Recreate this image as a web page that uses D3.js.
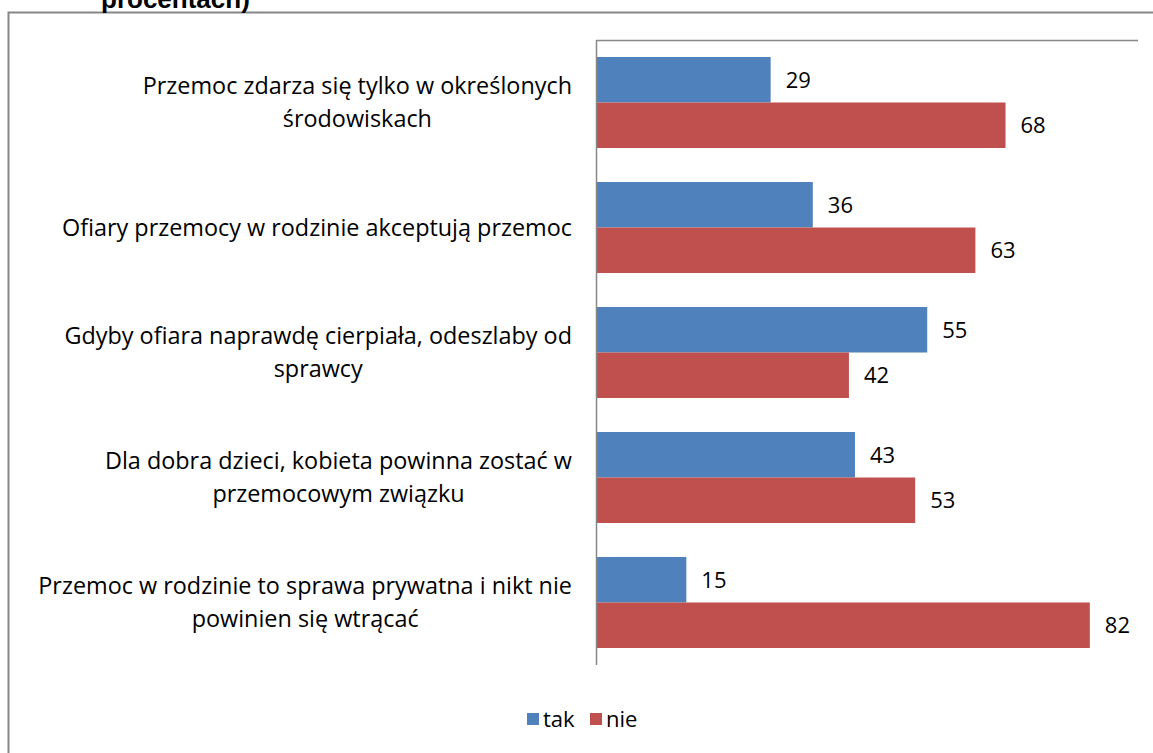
<!DOCTYPE html>
<html>
<head>
<meta charset="utf-8">
<script src="https://cdn.jsdelivr.net/npm/d3@7"></script>
<style>
  body { margin: 0; background: #fff; }
  text { font-family: "Open Sans", "Liberation Sans", Arial, sans-serif; fill: #000; }
</style>
</head>
<body>
<div id="chart"></div>
<script>
var svgWidth = 1153;
var svgHeight = 753;

// chart data
var categories = [
    ["Przemoc zdarza się tylko w określonych", "środowiskach"],
    ["Ofiary przemocy w rodzinie akceptują przemoc"],
    ["Gdyby ofiara naprawdę cierpiała, odeszlaby od", "sprawcy"],
    ["Dla dobra dzieci, kobieta powinna zostać w", "przemocowym związku"],
    ["Przemoc w rodzinie to sprawa prywatna i nikt nie", "powinien się wtrącać"]
];
var seriesNames = ["tak", "nie"];
var takValues = [29, 36, 55, 43, 15];
var nieValues = [68, 63, 42, 53, 82];
var colors = ["#4F81BD", "#C0504D"];

var plot = { left: 596, right: 1138, top: 40, bottom: 665 };
var fontSize = 22;
var labelSize = 23.4;

var svg = d3.select("#chart")
    .append("svg")
    .attr("width", svgWidth)
    .attr("height", svgHeight);

// outer frame (cut by the page edge)
svg.append("path")
    .attr("d", "M8.5," + svgHeight + " V12.5 H" + svgWidth)
    .attr("fill", "none")
    .attr("stroke", "#878787")
    .attr("stroke-width", 2);

// title, mostly cut off at the top
svg.append("text")
    .attr("x", 101)
    .attr("y", 8)
    .attr("font-size", 26)
    .attr("font-weight", "bold")
    .style("font-family", "'Liberation Sans', Arial, sans-serif")
    .text("procentach)");

var xScale = d3.scaleLinear()
    .domain([0, 90])
    .range([plot.left, plot.right]);

var yScale = d3.scaleBand()
    .domain(d3.range(categories.length))
    .range([plot.top, plot.bottom])
    .paddingInner(34 / 125)
    .paddingOuter(17 / 125);

var subScale = d3.scaleBand()
    .domain(seriesNames)
    .range([0, yScale.bandwidth()]);

var rows = categories.map(function(c, i) {
    return { label: c, values: [takValues[i], nieValues[i]] };
});

// plot area top line
svg.append("line")
    .attr("x1", plot.left).attr("x2", plot.right)
    .attr("y1", plot.top + 0.5).attr("y2", plot.top + 0.5)
    .attr("stroke", "#878787")
    .attr("stroke-width", 1.5);

var groups = svg.selectAll("g.group")
    .data(rows)
    .enter()
    .append("g")
    .attr("class", "group")
    .attr("transform", (d, i) => `translate(0, ${yScale(i)})`);

groups.selectAll("rect")
    .data(d => d.values.map((v, j) => ({ name: seriesNames[j], value: v, j: j })))
    .enter()
    .append("rect")
    .attr("x", xScale(0))
    .attr("y", d => subScale(d.name))
    .attr("width", d => xScale(d.value) - xScale(0))
    .attr("height", subScale.bandwidth())
    .attr("fill", d => colors[d.j]);

groups.selectAll("text.value")
    .data(d => d.values.map((v, j) => ({ name: seriesNames[j], value: v })))
    .enter()
    .append("text")
    .attr("class", "value")
    .attr("x", d => xScale(d.value) + 15)
    .attr("y", d => subScale(d.name) + subScale.bandwidth() / 2)
    .attr("dy", "0.36em")
    .attr("font-size", fontSize)
    .text(d => d.value);

// category labels, wrapped lines centred on the widest line
var lineGap = 33;
groups.each(function(d, i) {
    var g = d3.select(this);
    var label = g.append("g").attr("class", "label");
    var mid = yScale.bandwidth() / 2;
    var startY = mid - (d.label.length - 1) * lineGap / 2;
    var texts = label.selectAll("text")
        .data(d.label)
        .enter()
        .append("text")
        .attr("y", (t, k) => startY + k * lineGap)
        .attr("dy", "0.36em")
        .attr("font-size", labelSize)
        .attr("text-anchor", "middle")
        .text(t => t);
    var maxW = 0;
    texts.each(function() { maxW = Math.max(maxW, this.getComputedTextLength()); });
    texts.attr("x", 572 - maxW / 2);
});

// y axis line
svg.append("line")
    .attr("x1", plot.left + 0.5).attr("x2", plot.left + 0.5)
    .attr("y1", plot.top).attr("y2", plot.bottom)
    .attr("stroke", "#878787")
    .attr("stroke-width", 1.5);

// legend
var legend = svg.append("g")
    .attr("transform", "translate(527, 719)");

var legendX = [0, 63];
seriesNames.forEach(function(name, j) {
    var item = legend.append("g").attr("transform", `translate(${legendX[j]}, 0)`);
    item.append("rect")
        .attr("x", 0).attr("y", -6)
        .attr("width", 12).attr("height", 12)
        .attr("fill", colors[j]);
    item.append("text")
        .attr("x", 16)
        .attr("dy", "0.36em")
        .attr("font-size", fontSize)
        .text(name);
});
</script>
</body>
</html>
